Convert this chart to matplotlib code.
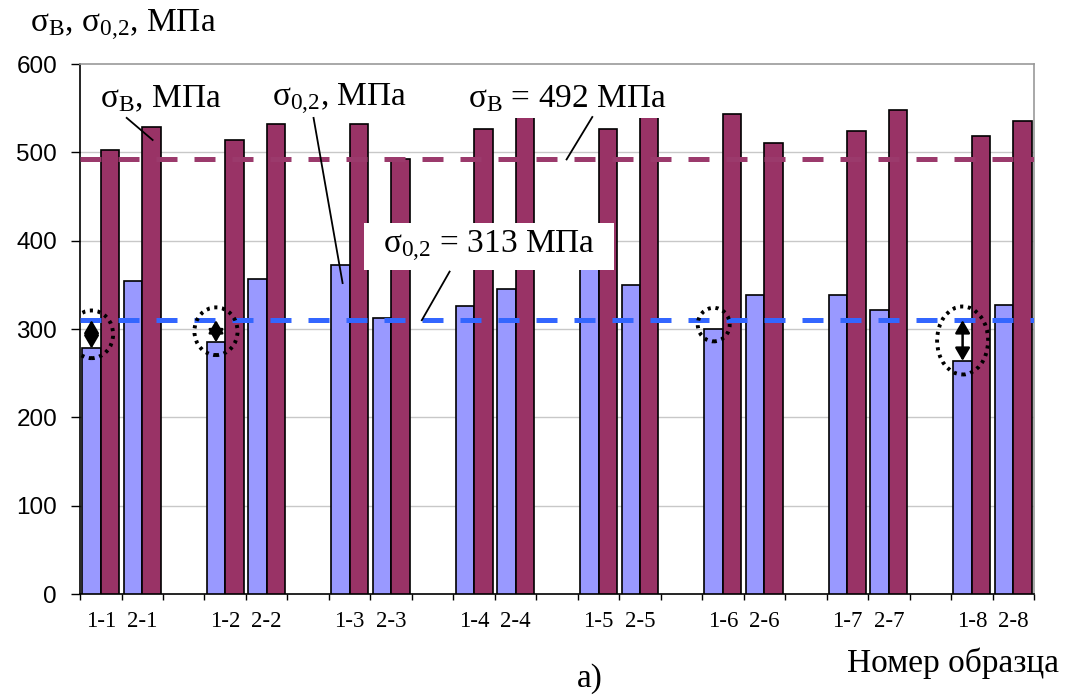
import matplotlib
matplotlib.use("Agg")
import matplotlib.pyplot as plt
from matplotlib.patches import Ellipse, Rectangle
import numpy as np

plt.rcParams['font.family'] = ['Liberation Serif', 'DejaVu Serif']
plt.rcParams['mathtext.fontset'] = 'custom'
plt.rcParams['mathtext.rm'] = 'Liberation Serif'
plt.rcParams['mathtext.it'] = 'Liberation Serif'

# ---- data ----
categories = ["1-1", "2-1", "", "1-2", "2-2", "", "1-3", "2-3", "", "1-4", "2-4", "",
              "1-5", "2-5", "", "1-6", "2-6", "", "1-7", "2-7", "", "1-8", "2-8"]
sigma02 = [278, 354, None, 285, 357, None, 372, 312, None, 326, 345, None,
           385, 350, None, 300, 338, None, 338, 321, None, 264, 327]
sigmaB = [503, 529, None, 514, 532, None, 532, 493, None, 526, 548, None,
          526, 549, None, 543, 511, None, 524, 548, None, 519, 536]
sigmaB_mean = 492
sigma02_mean = 313
sigma02_line = 310          # drawn position of the dashed line
marked = ["1-1", "1-2", "1-6", "1-8"]
arrowed = ["1-1", "1-2", "1-8"]
yticks = [0, 100, 200, 300, 400, 500, 600]

col_02 = "#9999FF"
col_B = "#993366"

fig = plt.figure(figsize=(10.7, 6.95), dpi=100)
ax = fig.add_axes([0.0748, 0.1453, 0.9664 - 0.0748, 0.9079 - 0.1453])

x = np.arange(len(categories))
w = 0.445
for i, (a, b) in enumerate(zip(sigma02, sigmaB)):
    if a is not None:
        ax.bar(i - w / 2, a, width=w, color=col_02, edgecolor="black", linewidth=1.2, zorder=3)
    if b is not None:
        ax.bar(i + w / 2, b, width=w, color=col_B, edgecolor="black", linewidth=1.2, zorder=3)

ax.set_xlim(-0.5, len(categories) - 0.5)
ax.set_ylim(0, 600)

# dashed mean lines
ax.axhline(sigmaB_mean, color="#9B3A6C", linewidth=3.6, dashes=(4.2, 3.4), zorder=4)
ax.axhline(sigma02_line, color="#3366FF", linewidth=3.6, dashes=(4.2, 3.4), zorder=4)

# grid
ax.set_yticks(yticks)
for v in yticks[1:-1]:
    ax.axhline(v, color="#C8C8C8", linewidth=1.0, zorder=1)

# spines
ax.spines['top'].set_color('#999999')
ax.spines['right'].set_color('#999999')
ax.spines['left'].set_color('black')
ax.spines['bottom'].set_color('black')
for s in ax.spines.values():
    s.set_linewidth(1.2)

ax.tick_params(axis='y', direction='out', length=6.5, width=1.0, pad=10,
               labelsize=17.5, labelfontfamily='Liberation Sans')
ax.set_xticks(x)
ax.set_xticklabels(categories)
ax.set_xticks(np.arange(-0.5, len(categories)), minor=True)
ax.tick_params(axis='x', which='major', length=0, pad=12, labelsize=16.5)
ax.tick_params(axis='x', which='minor', length=4, width=1.0, direction='out')

# dotted ellipses and double arrows
ell_sizes = {"1-1": (1.04, 54), "1-2": (1.04, 54), "1-6": (0.77, 38), "1-8": (1.23, 77)}
for lab in marked:
    i = categories.index(lab)
    xc = i - w / 2
    top = sigma02[i]
    yc = (top + sigma02_line) / 2
    ew, eh = ell_sizes[lab]
    e = Ellipse((xc, yc), ew, eh, fill=False, edgecolor="black",
                linewidth=2.8, linestyle=(0, (0.8, 1.2)), zorder=6)
    ax.add_patch(e)
    if lab in arrowed:
        ax.annotate("", xy=(xc, top), xytext=(xc, sigma02_line),
                    arrowprops=dict(arrowstyle="<|-|>,head_length=0.55,head_width=0.32",
                                    color="black", lw=1.8, shrinkA=0, shrinkB=0,
                                    mutation_scale=14), zorder=7)

# annotation texts with leader lines
fs = 24
lw_lead = 1.3
ax.text(1.44, 560, "σ$_\\mathrm{B}$, МПа", ha="center", va="center", fontsize=fs, zorder=8)
ax.plot([0.625, 1.25], [539, 514], color="black", lw=lw_lead, zorder=8)

ax.text(5.75, 560, "σ$_\\mathrm{0{,}2}$, МПа", ha="center", va="center", fontsize=fs, zorder=8)
ax.plot([5.13, 5.83], [539, 352], color="black", lw=lw_lead, zorder=8)

# white label backgrounds
ax.add_patch(Rectangle((8.55, 539), 5.42, 55, facecolor="white", edgecolor="none", zorder=7.5))
ax.add_patch(Rectangle((6.34, 367), 6.04, 53, facecolor="white", edgecolor="none", zorder=7.5))

ax.text(11.25, 561, "σ$_\\mathrm{B}$ = %d МПа" % sigmaB_mean, ha="center", va="center",
        fontsize=fs, zorder=9)
ax.plot([11.85, 11.23], [540, sigmaB_mean], color="black", lw=lw_lead, zorder=8)

ax.text(9.36, 394, "σ$_\\mathrm{0{,}2}$ = %d МПа" % sigma02_mean, ha="center", va="center",
        fontsize=fs, zorder=9)
ax.plot([8.41, 7.74], [365, sigma02_line], color="black", lw=lw_lead, zorder=8)

# outer labels
fig.text(0.028, 0.964, "σ$_\\mathrm{B}$, σ$_\\mathrm{0{,}2}$, МПа", fontsize=fs,
         ha="left", va="center")
fig.text(0.99, 0.046, "Номер образца", fontsize=fs, ha="right", va="center")
fig.text(0.551, 0.024, "а)", fontsize=fs, ha="center", va="center")

fig.savefig("out.png", dpi=100)
